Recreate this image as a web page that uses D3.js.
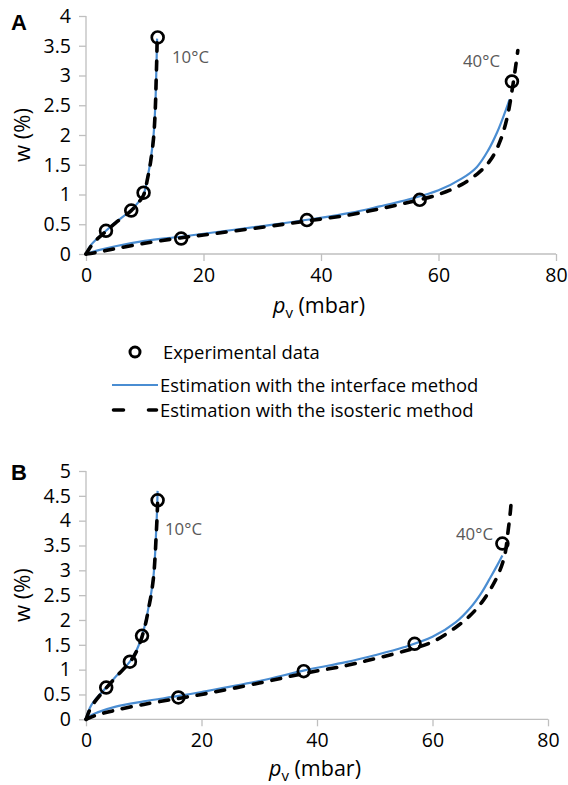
<!DOCTYPE html>
<html>
<head>
<meta charset="utf-8">
<script src="https://cdn.jsdelivr.net/npm/d3@7"></script>
<style>
  body { margin: 0; background: #fff; }
  svg text { font-family: "Open Sans", Lato, sans-serif; }
</style>
</head>
<body>
<svg id="chart" width="568" height="785"></svg>
<script>
// tick values
var xTicks = [0, 20, 40, 60, 80];
var yTicksA = [0, 0.5, 1, 1.5, 2, 2.5, 3, 3.5, 4];
var yTicksB = [0, 0.5, 1, 1.5, 2, 2.5, 3, 3.5, 4, 4.5, 5];

// panel A - experimental points [pv, w]
var expA10 = [[3.4, 0.39], [7.7, 0.73], [9.8, 1.03], [12.2, 3.64]];
var expA40 = [[16.2, 0.26], [37.6, 0.57], [56.8, 0.91], [72.5, 2.90]];
// panel A - interface method
var intA10 = [[0, 0], [0.5, 0.1], [1, 0.17], [2, 0.27], [3.4, 0.39], [5, 0.53], [7.7, 0.74], [9, 0.88],
  [9.8, 1.0], [10.5, 1.3], [11, 1.58], [11.5, 2.0], [11.8, 2.5], [11.95, 3.0], [12.05, 3.4], [12.1, 3.62]];
var intA40 = [[0, 0], [2, 0.06], [5, 0.13], [10, 0.22], [16, 0.29], [20, 0.34], [30, 0.47], [38, 0.58],
  [45, 0.69], [50, 0.8], [55, 0.92], [60, 1.07], [64, 1.27], [66.5, 1.46], [68.5, 1.75], [70, 2.05],
  [71.2, 2.35], [72.1, 2.6]];
// panel A - isosteric method
var isoA10 = [[0, 0], [0.5, 0.08], [1, 0.15], [2, 0.26], [3.4, 0.38], [5, 0.52], [7.7, 0.73], [9, 0.87],
  [9.8, 0.99], [10.5, 1.28], [11, 1.55], [11.5, 1.95], [11.8, 2.45], [11.95, 2.95], [12.05, 3.3], [12.1, 3.55]];
var isoA40 = [[0, 0], [2, 0.03], [5, 0.09], [10, 0.18], [16, 0.27], [20, 0.32], [30, 0.45], [38, 0.56],
  [45, 0.66], [50, 0.76], [55, 0.87], [60, 1.0], [64, 1.17], [67, 1.38], [69, 1.6], [70.5, 1.9],
  [71.7, 2.3], [72.6, 2.8], [73.2, 3.2], [73.5, 3.42]];

// panel B
var expB10 = [[3.5, 0.64], [7.6, 1.16], [9.7, 1.68], [12.4, 4.41]];
var expB40 = [[16.0, 0.44], [37.7, 0.97], [56.9, 1.52], [72.1, 3.54]];
var intB10 = [[0, 0], [0.3, 0.12], [0.7, 0.24], [1.5, 0.38], [3.5, 0.64], [5.5, 0.9], [7.6, 1.16], [8.8, 1.4],
  [9.7, 1.68], [10.4, 2.0], [10.9, 2.3], [11.3, 2.55], [11.7, 2.9], [11.95, 3.3], [12.15, 3.8], [12.3, 4.2], [12.4, 4.6]];
var intB40 = [[0, 0], [1, 0.09], [2, 0.14], [5, 0.25], [10, 0.36], [16, 0.47], [20, 0.55], [30, 0.77],
  [38, 0.99], [45, 1.15], [50, 1.29], [55, 1.45], [60, 1.66], [64, 1.95], [66.6, 2.25], [68.5, 2.55],
  [70, 2.85], [71.2, 3.1], [72.1, 3.3]];
var isoB10 = [[0, 0], [0.3, 0.09], [0.7, 0.2], [1.5, 0.35], [3.5, 0.63], [5.5, 0.89], [7.6, 1.15], [8.8, 1.38],
  [9.7, 1.66], [10.4, 1.97], [10.9, 2.27], [11.3, 2.52], [11.7, 2.87], [11.95, 3.25], [12.15, 3.7], [12.3, 4.05], [12.4, 4.35]];
var isoB40 = [[0, 0], [1, 0.05], [2, 0.09], [5, 0.18], [10, 0.3], [16, 0.42], [20, 0.5], [30, 0.73],
  [38, 0.93], [45, 1.08], [50, 1.22], [55, 1.37], [60, 1.56], [64, 1.85], [66.6, 2.1], [68.5, 2.35],
  [70.2, 2.65], [71.5, 2.95], [72.5, 3.3], [73.1, 3.8], [73.5, 4.2], [73.7, 4.5]];

var legendItems = ["Experimental data", "Estimation with the interface method", "Estimation with the isosteric method"];

var svg = d3.select("#chart");
var blue = "#4a8dd2";
var axisGrey = "#bfbfbf";

function drawPanel(cfg) {
  var x = d3.scaleLinear().domain([0, 80]).range([cfg.left, cfg.right]);
  var y = d3.scaleLinear().domain([0, cfg.yMax]).range([cfg.bottom, cfg.top]);
  var g = svg.append("g");

  var yAxis = g.append("g").attr("transform", "translate(" + cfg.left + ",0)")
    .call(d3.axisLeft(y).tickValues(cfg.yTicks).tickSize(7).tickPadding(8).tickFormat(d3.format("")));
  var xAxis = g.append("g").attr("transform", "translate(0," + cfg.bottom + ")")
    .call(d3.axisBottom(x).tickValues(xTicks).tickSize(7).tickPadding(7));
  [xAxis, yAxis].forEach(function (a) {
    a.selectAll("path, line").attr("stroke", axisGrey).attr("stroke-width", 1.3);
    a.selectAll("text").attr("fill", "#000").style("font-size", "19.5px");
  });
  xAxis.select(".domain").attr("d", "M" + cfg.left + ",0H" + cfg.right);
  yAxis.select(".domain").attr("d", "M0," + cfg.bottom + "V" + cfg.top);

  var line = d3.line().x(function (d) { return x(d[0]); }).y(function (d) { return y(d[1]); })
    .curve(d3.curveCatmullRom.alpha(0.5));

  [cfg.int10, cfg.int40].forEach(function (s) {
    g.append("path").attr("d", line(s)).attr("fill", "none").attr("stroke", blue).attr("stroke-width", 2.2);
  });
  [cfg.iso10, cfg.iso40].forEach(function (s) {
    g.append("path").attr("d", line(s)).attr("fill", "none").attr("stroke", "#000")
      .attr("stroke-width", 3.6).attr("stroke-linecap", "round").attr("stroke-dasharray", "9,10");
  });
  g.selectAll("circle.exp").data(cfg.exp10.concat(cfg.exp40)).enter().append("circle")
    .attr("cx", function (d) { return x(d[0]); }).attr("cy", function (d) { return y(d[1]); })
    .attr("r", 5.9).attr("fill", "none").attr("stroke", "#000").attr("stroke-width", 2.7);

  g.append("text").attr("x", cfg.lab10[0]).attr("y", cfg.lab10[1]).text("10°C")
    .attr("fill", "#595959").style("font-size", "16.8px");
  g.append("text").attr("x", cfg.lab40[0]).attr("y", cfg.lab40[1]).text("40°C")
    .attr("fill", "#595959").style("font-size", "16.8px");

  g.append("text").attr("x", 11).attr("y", cfg.letterY).text(cfg.letter)
    .style("font-size", "22px").style("font-weight", "bold").style("font-family", "Arial, 'Liberation Sans', sans-serif");

  g.append("text").attr("transform", "translate(30," + ((cfg.top + cfg.bottom) / 2) + ") rotate(-90)")
    .attr("text-anchor", "middle").style("font-size", "22px").text("w (%)");

  var xt = g.append("text").attr("x", (cfg.left + cfg.right) / 2 - 2).attr("y", cfg.titleY)
    .attr("text-anchor", "middle").style("font-size", "21.5px");
  xt.append("tspan").text("p").style("font-style", "italic");
  xt.append("tspan").text("v").attr("dy", 5).style("font-size", "15px");
  xt.append("tspan").text(" (mbar)").attr("dy", -5);
}

drawPanel({ letter: "A", letterY: 30, titleY: 313, left: 86, right: 556, top: 16, bottom: 254, yMax: 4, yTicks: yTicksA,
  exp10: expA10, exp40: expA40, int10: intA10, int40: intA40, iso10: isoA10, iso40: isoA40,
  lab10: [172, 63], lab40: [463, 67] });
drawPanel({ letter: "B", letterY: 479.5, titleY: 776, left: 86, right: 548, top: 471, bottom: 719.3, yMax: 5, yTicks: yTicksB,
  exp10: expB10, exp40: expB40, int10: intB10, int40: intB40, iso10: isoB10, iso40: isoB40,
  lab10: [165, 535], lab40: [456, 540] });

// legend
var leg = svg.append("g");
var rows = [352, 385, 410];
leg.append("circle").attr("cx", 135).attr("cy", rows[0]).attr("r", 5).attr("fill", "none")
  .attr("stroke", "#000").attr("stroke-width", 3);
leg.append("line").attr("x1", 112).attr("x2", 158).attr("y1", rows[1]).attr("y2", rows[1])
  .attr("stroke", blue).attr("stroke-width", 2.2);
leg.append("line").attr("x1", 113.5).attr("x2", 156.5).attr("y1", rows[2]).attr("y2", rows[2])
  .attr("stroke", "#000").attr("stroke-width", 3.6).attr("stroke-linecap", "round").attr("stroke-dasharray", "10,25");
leg.selectAll("text").data(legendItems).enter().append("text")
  .attr("x", function (d, i) { return i === 0 ? 163 : 160; })
  .attr("y", function (d, i) { return rows[i] + 6.5; })
  .style("font-size", "18.4px").text(function (d) { return d; });
</script>
</body>
</html>
